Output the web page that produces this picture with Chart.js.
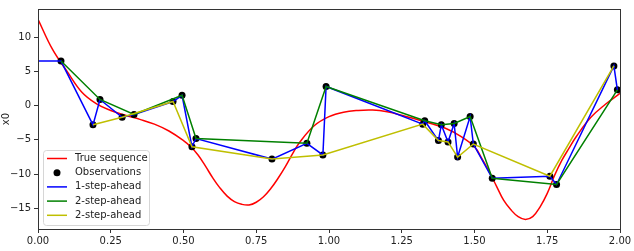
<!DOCTYPE html>
<html>
<head>
<meta charset="utf-8">
<script src="https://cdn.jsdelivr.net/npm/chart.js@4"></script>
<style>
  html, body { margin: 0; padding: 0; background: #fff; }
</style>
</head>
<body>
<canvas id="chart" width="634" height="251"></canvas>
<script>
// true sequence (red)
const trueX = [0, 0.05, 0.10, 0.15, 0.20, 0.25, 0.30, 0.35, 0.40, 0.45, 0.50, 0.525, 0.55, 0.575, 0.60, 0.625, 0.65, 0.675, 0.70, 0.725, 0.75, 0.775, 0.80, 0.825, 0.85, 0.875, 0.90, 0.95, 1.00, 1.05, 1.10, 1.15, 1.20, 1.25, 1.30, 1.35, 1.40, 1.45, 1.50, 1.525, 1.55, 1.575, 1.60, 1.625, 1.65, 1.675, 1.70, 1.725, 1.75, 1.775, 1.80, 1.825, 1.85, 1.90, 1.95, 2.00];
const trueY = [12.6, 8.2, 5.0, 2.0, 0.3, -0.7, -1.4, -2.0, -2.7, -3.7, -5.1, -6.0, -7.2, -8.8, -10.5, -12.0, -13.2, -14.0, -14.4, -14.5, -14.1, -13.3, -12.1, -10.6, -8.9, -7.0, -5.3, -2.9, -1.6, -0.95, -0.7, -0.65, -0.9, -1.4, -2.0, -2.6, -3.3, -4.4, -6.0, -7.7, -9.6, -11.7, -13.8, -15.2, -16.2, -16.6, -16.2, -14.8, -12.8, -10.2, -8.0, -6.2, -4.5, -1.7, 0.2, 1.8];

// observations (black dots)
const obsX = [0.079, 0.189, 0.213, 0.289, 0.33, 0.464, 0.495, 0.529, 0.543, 0.804, 0.924, 0.979, 0.99, 1.322, 1.329, 1.376, 1.386, 1.409, 1.43, 1.442, 1.485, 1.496, 1.561, 1.759, 1.782, 1.979, 1.991];
const obsY = [6.5, -2.8, 0.9, -1.7, -1.3, 0.6, 1.5, -6.0, -4.8, -7.8, -5.5, -7.2, 2.8, -2.7, -2.2, -5.1, -2.8, -5.3, -2.6, -7.5, -1.6, -5.6, -10.6, -10.3, -11.5, 5.8, 2.3];

// 1-step-ahead (blue)
const step1X = [0, 0.079, 0.189, 0.213, 0.289, 0.33, 0.464, 0.495, 0.529, 0.543, 0.804, 0.924, 0.979, 0.99, 1.322, 1.329, 1.376, 1.386, 1.409, 1.43, 1.442, 1.485, 1.496, 1.561, 1.759, 1.782, 1.979, 1.991];
const step1Y = [6.5, 6.5, -2.8, 0.9, -1.7, -1.3, 0.6, 1.5, -6.0, -4.8, -7.8, -5.5, -7.2, 2.8, -2.7, -2.2, -5.1, -2.8, -5.3, -2.6, -7.5, -1.6, -5.6, -10.6, -10.3, -11.5, 5.8, 2.3];

// 2-step-ahead (green)
const step2aX = [0.079, 0.213, 0.33, 0.495, 0.543, 0.924, 0.99, 1.329, 1.386, 1.43, 1.485, 1.561, 1.782, 1.991];
const step2aY = [6.5, 0.9, -1.3, 1.5, -4.8, -5.5, 2.8, -2.2, -2.8, -2.6, -1.6, -10.6, -11.5, 2.3];

// 2-step-ahead (yellow)
const step2bX = [0.189, 0.289, 0.464, 0.529, 0.804, 0.979, 1.322, 1.376, 1.409, 1.442, 1.496, 1.759, 1.979];
const step2bY = [-2.8, -1.7, 0.6, -6.0, -7.8, -7.2, -2.7, -5.1, -5.3, -7.5, -5.6, -10.3, 5.8];

const xTicks = [0, 0.25, 0.5, 0.75, 1.0, 1.25, 1.5, 1.75, 2.0];
const yTicks = [-15, -10, -5, 0, 5, 10];

const FONT = { family: "'DejaVu Sans', sans-serif", size: 10 };
const INK = "#222";
const SPINE = "#333";

const pts = (xs, ys) => xs.map((x, i) => ({ x: x, y: ys[i] }));

// top/right spines like matplotlib
const frame = {
  id: "frame",
  afterDatasetsDraw(chart) {
    const { ctx, chartArea: a } = chart;
    ctx.save();
    ctx.strokeStyle = SPINE;
    ctx.lineWidth = 1;
    ctx.strokeRect(a.left + 0.5, a.top + 0.5, a.right - a.left, a.bottom - a.top);
    ctx.restore();
  }
};

// legend box in the lower-left corner of the axes
const legendBox = {
  id: "legendBox",
  afterDraw(chart) {
    const { ctx, chartArea: a } = chart;
    const rowH = 14.2, w = 106, h = 75;
    const x = a.left + 5, y = a.bottom - 4 - h;
    ctx.save();
    ctx.beginPath();
    ctx.roundRect(x + 0.5, y + 0.5, w, h, 3);
    ctx.fillStyle = "rgba(255,255,255,0.8)";
    ctx.fill();
    ctx.strokeStyle = "#d6d6d6";
    ctx.lineWidth = 1;
    ctx.stroke();
    ctx.font = "10px 'DejaVu Sans', sans-serif";
    ctx.textBaseline = "middle";
    chart.data.datasets.forEach((ds, i) => {
      const cy = y + 8.5 + i * rowH;
      if (ds.showLine === false) {
        ctx.beginPath();
        ctx.arc(x + 14, cy, 3.5, 0, Math.PI * 2);
        ctx.fillStyle = "#000";
        ctx.fill();
      } else {
        ctx.beginPath();
        ctx.moveTo(x + 4, cy);
        ctx.lineTo(x + 24, cy);
        ctx.strokeStyle = ds.borderColor;
        ctx.lineWidth = 1.5;
        ctx.stroke();
      }
      ctx.fillStyle = INK;
      ctx.fillText(ds.label, x + 32, cy);
    });
    ctx.restore();
  }
};

const lineSet = (label, data, color, order) => ({
  label, data, order,
  borderColor: color,
  backgroundColor: color,
  borderWidth: 1.5,
  pointRadius: 0,
  fill: false,
  showLine: true
});

new Chart(document.getElementById("chart"), {
  type: "scatter",
  data: {
    datasets: [
      Object.assign(lineSet("True sequence", pts(trueX, trueY), "#ff0000", 5), { tension: 0.4 }),
      {
        label: "Observations",
        data: pts(obsX, obsY),
        order: 4,
        showLine: false,
        pointRadius: 3.5,
        pointBackgroundColor: "#000",
        pointBorderColor: "#000",
        pointBorderWidth: 0
      },
      lineSet("1-step-ahead", pts(step1X, step1Y), "#0000ff", 3),
      lineSet("2-step-ahead", pts(step2aX, step2aY), "#008000", 2),
      lineSet("2-step-ahead", pts(step2bX, step2bY), "#bfbf00", 1)
    ]
  },
  options: {
    responsive: false,
    animation: false,
    layout: { padding: { top: 8, right: 14, left: 0, bottom: 0 } },
    plugins: {
      legend: { display: false },
      tooltip: { enabled: false }
    },
    scales: {
      x: {
        type: "linear",
        min: 0,
        max: 2,
        afterBuildTicks: s => { s.ticks = xTicks.map(v => ({ value: v })); },
        afterFit: s => { s.height = 22; },
        ticks: { font: FONT, color: INK, padding: 2, maxRotation: 0, callback: v => v.toFixed(2) },
        grid: { drawOnChartArea: false, tickLength: 4, color: SPINE },
        border: { color: SPINE }
      },
      y: {
        type: "linear",
        min: -18,
        max: 14.1,
        afterBuildTicks: s => { s.ticks = yTicks.map(v => ({ value: v })); },
        afterFit: s => { s.width = 38; },
        ticks: { font: FONT, color: INK, padding: 3, callback: v => v < 0 ? "\u2212" + Math.abs(v) : String(v) },
        grid: { drawOnChartArea: false, tickLength: 4, color: SPINE },
        border: { color: SPINE },
        title: { display: true, text: "x0", font: FONT, color: INK, padding: { top: 0, bottom: 0 } }
      }
    }
  },
  plugins: [frame, legendBox]
});
</script>
</body>
</html>
